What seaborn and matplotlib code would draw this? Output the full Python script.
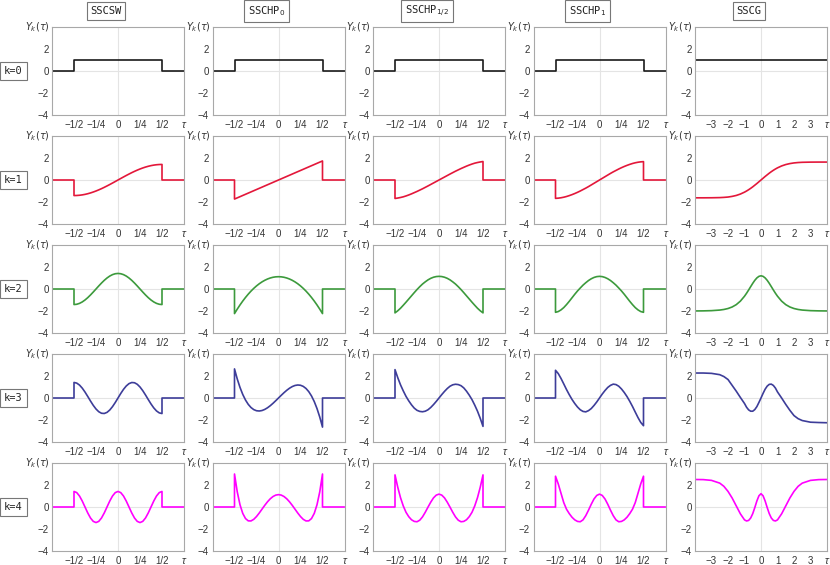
import numpy as np
import pandas as pd
import seaborn as sns
import matplotlib
matplotlib.use('Agg')
import matplotlib.pyplot as plt

# ---------------- data ----------------
columns = ['SSCSW', 'SSCHP$_0$', 'SSCHP$_{1/2}$', 'SSCHP$_1$', 'SSCG']
row_labels = ['k=0', 'k=1', 'k=2', 'k=3', 'k=4']
k_colors = ['#1a1a1a', '#e3173a', '#3c9a3c', '#3d3d99', '#ff00ff']

# sample positions inside the support [-1/2, 1/2]
tau_in = np.linspace(-0.5, 0.5, 33)
# k = 0 is a plain box on the support
tau_box = [-0.5, 0.5]
y_box = [1.0, 1.0]

# SSCSW
sw_k1 = [-1.414, -1.407, -1.387, -1.353, -1.307, -1.247, -1.176, -1.093, -1.0, -0.897, -0.786, -0.667, -0.541, -0.411, -0.276, -0.139, 0,
         0.139, 0.276, 0.411, 0.541, 0.667, 0.786, 0.897, 1.0, 1.093, 1.176, 1.247, 1.307, 1.353, 1.387, 1.407, 1.414]
sw_k2 = [-1.414, -1.387, -1.307, -1.176, -1.0, -0.786, -0.541, -0.276, 0, 0.276, 0.541, 0.786, 1.0, 1.176, 1.307, 1.387, 1.414,
         1.387, 1.307, 1.176, 1.0, 0.786, 0.541, 0.276, 0, -0.276, -0.541, -0.786, -1.0, -1.176, -1.307, -1.387, -1.414]
sw_k3 = [1.414, 1.353, 1.176, 0.897, 0.541, 0.139, -0.276, -0.667, -1.0, -1.247, -1.387, -1.407, -1.307, -1.093, -0.786, -0.411, 0,
         0.411, 0.786, 1.093, 1.307, 1.407, 1.387, 1.247, 1.0, 0.667, 0.276, -0.139, -0.541, -0.897, -1.176, -1.353, -1.414]
sw_k4 = [1.414, 1.307, 1.0, 0.541, 0, -0.541, -1.0, -1.307, -1.414, -1.307, -1.0, -0.541, 0, 0.541, 1.0, 1.307, 1.414,
         1.307, 1.0, 0.541, 0, -0.541, -1.0, -1.307, -1.414, -1.307, -1.0, -0.541, 0, 0.541, 1.0, 1.307, 1.414]

# SSCHP_0
h0_k1 = [-1.732, -1.624, -1.516, -1.407, -1.299, -1.191, -1.083, -0.974, -0.866, -0.758, -0.650, -0.541, -0.433, -0.325, -0.217, -0.108, 0,
         0.108, 0.217, 0.325, 0.433, 0.541, 0.650, 0.758, 0.866, 0.974, 1.083, 1.191, 1.299, 1.407, 1.516, 1.624, 1.732]
h0_k2 = [-2.236, -1.830, -1.450, -1.096, -0.769, -0.467, -0.192, 0.057, 0.280, 0.476, 0.646, 0.790, 0.908, 1.000, 1.066, 1.105, 1.118,
         1.105, 1.066, 1.000, 0.908, 0.790, 0.646, 0.476, 0.280, 0.057, -0.192, -0.467, -0.769, -1.096, -1.450, -1.830, -2.236]
h0_k3 = [2.646, 1.730, 0.959, 0.323, -0.186, -0.579, -0.866, -1.055, -1.158, -1.182, -1.139, -1.038, -0.889, -0.701, -0.483, -0.246, 0,
         0.246, 0.483, 0.701, 0.889, 1.038, 1.139, 1.182, 1.158, 1.055, 0.866, 0.579, 0.186, -0.323, -0.959, -1.730, -2.646]
h0_k4 = [3.0, 1.376, 0.205, -0.582, -1.050, -1.260, -1.267, -1.121, -0.867, -0.547, -0.197, 0.152, 0.473, 0.746, 0.952, 1.081, 1.125,
         1.081, 0.952, 0.746, 0.473, 0.152, -0.197, -0.547, -0.867, -1.121, -1.267, -1.260, -1.050, -0.582, 0.205, 1.376, 3.0]

# SSCHP_1/2
hh_k1 = [-1.68, -1.64, -1.59, -1.53, -1.45, -1.36, -1.26, -1.15, -1.04, -0.92, -0.80, -0.67, -0.54, -0.405, -0.27, -0.135, 0,
         0.135, 0.27, 0.405, 0.54, 0.67, 0.80, 0.92, 1.04, 1.15, 1.26, 1.36, 1.45, 1.53, 1.59, 1.64, 1.68]
hh_k2 = [-2.17, -1.98, -1.75, -1.48, -1.2, -0.91, -0.62, -0.33, -0.05, 0.21, 0.45, 0.65, 0.83, 0.97, 1.07, 1.13, 1.15,
         1.13, 1.07, 0.97, 0.83, 0.65, 0.45, 0.21, -0.05, -0.33, -0.62, -0.91, -1.2, -1.48, -1.75, -1.98, -2.17]
hh_k3 = [2.58, 1.85, 1.2, 0.65, 0.15, -0.26, -0.62, -0.92, -1.12, -1.22, -1.25, -1.2, -1.07, -0.86, -0.6, -0.31, 0,
         0.31, 0.6, 0.86, 1.07, 1.2, 1.25, 1.22, 1.12, 0.92, 0.62, 0.26, -0.15, -0.65, -1.2, -1.85, -2.58]
hh_k4 = [2.92, 1.8, 0.85, 0.1, -0.48, -0.88, -1.16, -1.31, -1.34, -1.2, -0.9, -0.48, -0.01, 0.44, 0.83, 1.08, 1.17,
         1.08, 0.83, 0.44, -0.01, -0.48, -0.9, -1.2, -1.34, -1.31, -1.16, -0.88, -0.48, 0.1, 0.85, 1.8, 2.92]

# SSCHP_1
h1_k1 = [-1.67, -1.65, -1.615, -1.565, -1.50, -1.42, -1.33, -1.23, -1.12, -1.00, -0.87, -0.74, -0.60, -0.45, -0.30, -0.15, 0,
         0.15, 0.30, 0.45, 0.60, 0.74, 0.87, 1.00, 1.12, 1.23, 1.33, 1.42, 1.50, 1.565, 1.615, 1.65, 1.67]
h1_k2 = [-2.12, -2.05, -1.90, -1.69, -1.42, -1.12, -0.80, -0.48, -0.18, 0.09, 0.35, 0.57, 0.77, 0.93, 1.05, 1.125, 1.15,
         1.125, 1.05, 0.93, 0.77, 0.57, 0.35, 0.09, -0.18, -0.48, -0.80, -1.12, -1.42, -1.69, -1.90, -2.05, -2.12]
h1_k3 = [2.52, 2.22, 1.78, 1.28, 0.77, 0.3, -0.13, -0.50, -0.82, -1.07, -1.22, -1.26, -1.15, -0.96, -0.68, -0.36, 0,
         0.36, 0.68, 0.96, 1.15, 1.26, 1.22, 1.07, 0.82, 0.50, 0.13, -0.3, -0.77, -1.28, -1.78, -2.22, -2.52]
h1_k4 = [2.8, 2.1, 1.25, 0.4, -0.2, -0.6, -0.93, -1.17, -1.31, -1.34, -1.17, -0.79, -0.29, 0.25, 0.73, 1.05, 1.17,
         1.05, 0.73, 0.25, -0.29, -0.79, -1.17, -1.34, -1.31, -1.17, -0.93, -0.6, -0.2, 0.4, 1.25, 2.1, 2.8]

# SSCG (whole line)
tau_g = [-4, -3.5, -3, -2.5, -2.25, -2, -1.75, -1.5, -1.25, -1, -0.875, -0.75, -0.625, -0.5, -0.375, -0.25, -0.125, 0,
         0.125, 0.25, 0.375, 0.5, 0.625, 0.75, 0.875, 1, 1.25, 1.5, 1.75, 2, 2.25, 2.5, 3, 3.5, 4]
g_k0_tau = [-4, 4]
g_k0 = [1.0, 1.0]
g_k1 = [-1.62, -1.62, -1.615, -1.6, -1.58, -1.55, -1.49, -1.405, -1.278, -1.105, -1.0, -0.884, -0.757, -0.62, -0.47, -0.32, -0.16, 0,
        0.16, 0.32, 0.47, 0.62, 0.757, 0.884, 1.0, 1.105, 1.278, 1.405, 1.493, 1.552, 1.588, 1.609, 1.625, 1.63, 1.63]
g_k2 = [-1.996, -1.988, -1.968, -1.915, -1.861, -1.774, -1.636, -1.422, -1.103, -0.656, -0.386, -0.091, 0.216, 0.517, 0.789, 1.008, 1.150, 1.2,
        1.150, 1.008, 0.789, 0.517, 0.216, -0.091, -0.386, -0.656, -1.103, -1.422, -1.636, -1.774, -1.861, -1.915, -1.968, -1.988, -1.996]
g_k3 = [2.27, 2.27, 2.24, 2.12, 1.95, 1.68, 1.15, 0.62, 0.05, -0.5, -0.84, -1.08, -1.2, -1.2, -1.05, -0.78, -0.4, 0,
        0.42, 0.8, 1.08, 1.24, 1.26, 1.14, 0.9, 0.55, 0.0, -0.58, -1.12, -1.6, -1.88, -2.05, -2.2, -2.23, -2.25]
g_k4 = [2.5, 2.49, 2.42, 2.17, 1.88, 1.42, 0.82, 0.1, -0.62, -1.17, -1.27, -1.22, -1.0, -0.6, -0.05, 0.55, 1.02, 1.21,
        1.02, 0.55, -0.05, -0.6, -1.0, -1.22, -1.27, -1.17, -0.62, 0.1, 0.82, 1.42, 1.88, 2.17, 2.42, 2.49, 2.5]

support_curves = [
    [sw_k1, sw_k2, sw_k3, sw_k4],
    [h0_k1, h0_k2, h0_k3, h0_k4],
    [hh_k1, hh_k2, hh_k3, hh_k4],
    [h1_k1, h1_k2, h1_k3, h1_k4],
]
gauss_curves = [g_k1, g_k2, g_k3, g_k4]

half_ticks = [-0.5, -0.25, 0, 0.25, 0.5]
half_labels = ['\u22121/2', '\u22121/4', '0', '1/4', '1/2']
g_ticks = [-3, -2, -1, 0, 1, 2, 3]
y_ticks = [-4, -2, 0, 2]

# ---------------- style ----------------
sns.set_theme(style='white')
plt.rcParams['font.family'] = ['Liberation Sans', 'DejaVu Sans']
plt.rcParams['axes.unicode_minus'] = True

W, H = 830, 565
fig = plt.figure(figsize=(W / 100, H / 100), dpi=100)
col_left = [52, 212.5, 373, 533.5, 695]
row_top = [27, 136, 245, 354, 463]
aw, ah = 132, 88
frame = '#a8a8a8'
box = dict(boxstyle='square,pad=0.35', fc='white', ec='#777777', lw=0.8)


def draw(ax, x, y, color):
    df = pd.DataFrame({'tau': x, 'y': y})
    sns.lineplot(data=df, x='tau', y='y', ax=ax, color=color, lw=1.2,
                 estimator=None, sort=False)


for i in range(5):
    for j in range(5):
        ax = fig.add_axes([col_left[j] / W, 1 - (row_top[i] + ah) / H, aw / W, ah / H])
        ax.axhline(0, color='#e4e4e4', lw=0.8, zorder=0)
        ax.axvline(0, color='#e4e4e4', lw=0.8, zorder=0)
        if j < 4:
            if i == 0:
                xs = [-0.75, tau_box[0], tau_box[0], tau_box[1], tau_box[1], 0.75]
                ys = [0, 0, y_box[0], y_box[1], 0, 0]
            else:
                xs = [-0.75, -0.5] + list(tau_in) + [0.5, 0.75]
                ys = [0, 0] + list(support_curves[j][i - 1]) + [0, 0]
            draw(ax, xs, ys, k_colors[i])
            ax.set_xlim(-0.75, 0.75)
            ax.set_xticks(half_ticks)
            ax.set_xticklabels(half_labels)
        else:
            if i == 0:
                draw(ax, g_k0_tau, g_k0, k_colors[i])
            else:
                draw(ax, tau_g, gauss_curves[i - 1], k_colors[i])
            ax.set_xlim(-4, 4)
            ax.set_xticks(g_ticks)
        ax.set_ylim(-4, 4)
        ax.set_yticks(y_ticks)
        ax.set(xlabel='', ylabel='')
        for s in ax.spines.values():
            s.set_color(frame)
            s.set_linewidth(0.8)
        ax.tick_params(direction='in', length=2.5, width=0.6, color=frame,
                       labelsize=7, labelcolor='#333333')
        ax.tick_params(axis='x', pad=3.5)
        ax.tick_params(axis='y', pad=2.5)
        ax.text(-0.015, 1.0, r'$Y_k(\tau)$', transform=ax.transAxes,
                ha='right', va='center', fontsize=7, color='#333333')
        ax.text(1.0, -0.115, '\u03c4', transform=ax.transAxes, ha='center',
                va='center', fontsize=7.5, fontstyle='italic', color='#333333')

for j, name in enumerate(columns):
    fig.text((col_left[j] + aw / 2 - 12) / W, 1 - 11 / H, name, ha='center', va='center',
             fontsize=7.5, family=['DejaVu Sans Mono'], color='#222222', bbox=box)

for i, lab in enumerate(row_labels):
    fig.text(13.5 / W, 1 - (row_top[i] + ah / 2) / H, lab, ha='center', va='center',
             fontsize=7.5, family=['DejaVu Sans Mono'], color='#222222', bbox=box)

fig.savefig('out.png', dpi=100)
